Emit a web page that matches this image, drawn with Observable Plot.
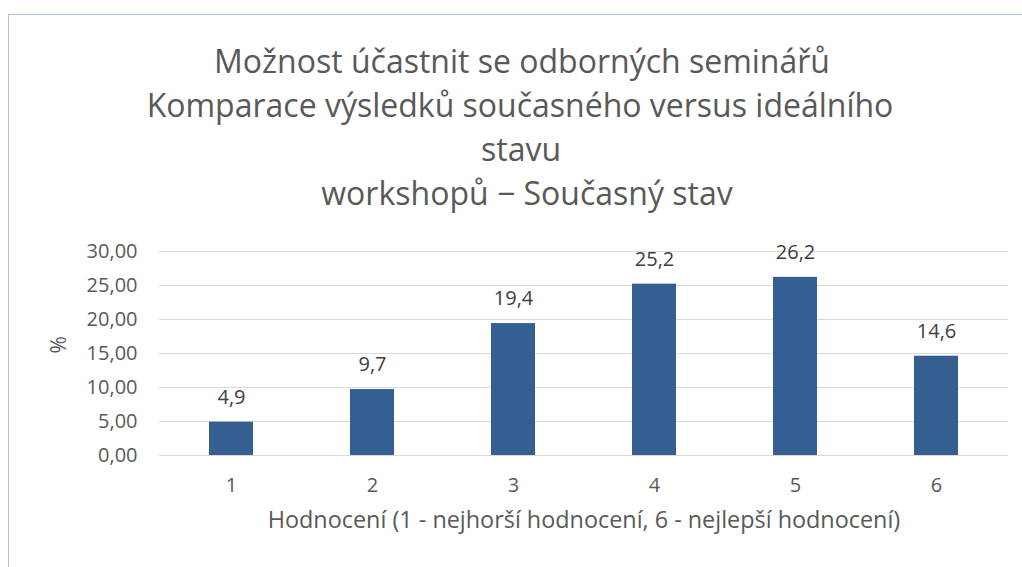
<!DOCTYPE html>
<html>
<head>
<meta charset="utf-8">
<script src="https://cdn.jsdelivr.net/npm/d3@7"></script>
<script src="https://cdn.jsdelivr.net/npm/@observablehq/plot@0.6"></script>
<style>
  html, body { margin: 0; padding: 0; background: #fff; }
  #wrap { position: relative; width: 1022px; height: 567px; overflow: hidden; font-family: "Open Sans", sans-serif; }
  #frame { position: absolute; left: 8px; top: 14px; width: 1030px; height: 600px; border: 1.5px solid #a9c3e6; box-sizing: border-box; }
  .tl { position: absolute; white-space: nowrap; color: #595959; font-size: 32px; transform: translate(-50%, -50%); line-height: 1; }
  #chart { position: absolute; left: 0; top: 0; }
</style>
</head>
<body>
<div id="wrap">
  <div id="frame"></div>
  <div id="chart"></div>
</div>
<script>
const titleLines = [
  "Možnost účastnit se odborných seminářů",
  "Komparace výsledků současného versus ideálního",
  "stavu",
  "workshopů − Současný stav"
];
const titleCenters = [522, 520, 521, 527];
const titleY = [61, 105, 149, 193];
const categories = ["1", "2", "3", "4", "5", "6"];
const values = [4.9, 9.7, 19.4, 25.2, 26.2, 14.6];
const yTicks = [0, 5, 10, 15, 20, 25, 30];
const xLabel = "Hodnocení (1 - nejhorší hodnocení, 6 - nejlepší hodnocení)";
const yLabel = "%";

const wrap = document.getElementById("wrap");
titleLines.forEach((t, i) => {
  const d = document.createElement("div");
  d.className = "tl";
  d.textContent = t;
  d.style.left = titleCenters[i] + "px";
  d.style.top = titleY[i] + "px";
  wrap.appendChild(d);
});

const data = categories.map((c, i) => ({cat: c, v: values[i]}));
const fmt2 = v => v.toFixed(2).replace(".", ",");
const fmt1 = v => v.toFixed(1).replace(".", ",");

const chart = Plot.plot({
  width: 1022,
  height: 567,
  marginLeft: 159,
  marginRight: 14,
  marginTop: 251,
  marginBottom: 112,
  style: { fontFamily: "Open Sans, sans-serif", fontSize: "21px", color: "#595959", background: "transparent" },
  x: { domain: categories, paddingInner: 0.69, paddingOuter: 0.345, label: null },
  y: { domain: [0, 30], label: null },
  marks: [
    Plot.ruleY(yTicks, { stroke: "#d9d9d9", strokeWidth: 1.2 }),
    Plot.barY(data, { x: "cat", y: "v", fill: "#355f91" }),
    Plot.text(data, { x: "cat", y: "v", text: d => fmt1(d.v), dy: -25, fill: "#404040", fontSize: 20 }),
    Plot.axisY({ ticks: yTicks, tickFormat: fmt2, tickSize: 0, tickPadding: 22, fontSize: 20, fill: "#595959", label: null }),
    Plot.axisX({ tickSize: 0, tickPadding: 22, fontSize: 20, fill: "#595959", label: null }),
    Plot.text([xLabel], { frameAnchor: "bottom", dy: 72, fontSize: 23.4, fill: "#595959" }),
    Plot.text([yLabel], { frameAnchor: "left", dx: -100, rotate: -90, fontSize: 21, fill: "#595959" })
  ]
});
document.getElementById("chart").appendChild(chart);
</script>
</body>
</html>
